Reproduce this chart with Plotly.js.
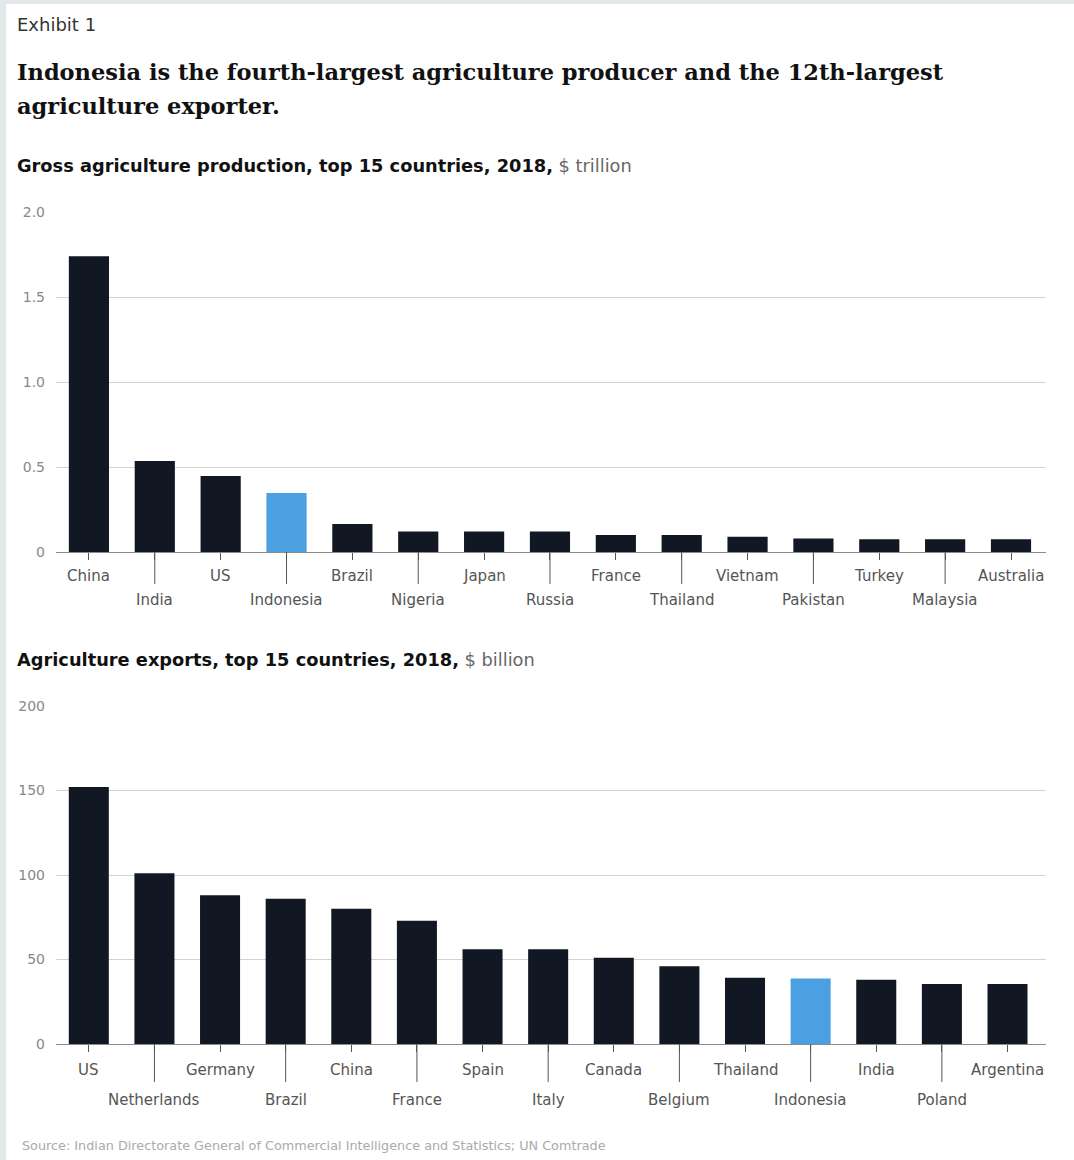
<!DOCTYPE html>
<html>
<head>
<meta charset="utf-8">
<script src="https://cdn.plot.ly/plotly-3.0.1.min.js"></script>
<style>html,body{margin:0;padding:0;background:#e3e9ea;}#chart{width:1074px;height:1160px;}</style>
</head>
<body>
<div id="chart"></div>
<script>
// ---- Data ----
const prodCountries = ["China","India","US","Indonesia","Brazil","Nigeria","Japan","Russia","France","Thailand","Vietnam","Pakistan","Turkey","Malaysia","Australia"];
const prodValues = [1.74, 0.535, 0.447, 0.347, 0.165, 0.12, 0.12, 0.12, 0.10, 0.10, 0.09, 0.08, 0.075, 0.075, 0.075];
const prodTicks = [0, 0.5, 1.0, 1.5, 2.0];
const prodTickLabels = ["0", "0.5", "1.0", "1.5", "2.0"];

const expCountries = ["US","Netherlands","Germany","Brazil","China","France","Spain","Italy","Canada","Belgium","Thailand","Indonesia","India","Poland","Argentina"];
const expValues = [152, 101, 88, 86, 80, 73, 56, 56, 51, 46, 39.2, 38.8, 38, 35.5, 35.5];
const expTicks = [0, 50, 100, 150, 200];
const expTickLabels = ["0", "50", "100", "150", "200"];

const highlight = "Indonesia";

// ---- Styling ----
const W = 1074, H = 1160;
const DARK = "#111823", BLUE = "#4aa0e0";
const px = v => v / W;
const py = v => 1 - v / H;
const sans = "DejaVu Sans, Verdana, sans-serif";
const serif = "DejaVu Serif, Georgia, serif";

const colorsFor = cats => cats.map(c => c === highlight ? BLUE : DARK);

const traces = [
  {type: "bar", x: prodCountries, y: prodValues, xaxis: "x", yaxis: "y",
   marker: {color: colorsFor(prodCountries)}, hoverinfo: "x+y"},
  {type: "bar", x: expCountries, y: expValues, xaxis: "x2", yaxis: "y2",
   marker: {color: colorsFor(expCountries)}, hoverinfo: "x+y"}
];

const xdom = [px(56), px(1046)];
const ydom1 = [py(552), py(212)];
const ydom2 = [py(1044), py(706)];
const yaxisBase = {
  showline: false, zeroline: true, zerolinecolor: "#8a8a8a", zerolinewidth: 1,
  gridcolor: "#d2d2d2", gridwidth: 1, ticks: "", tickfont: {family: sans, size: 14, color: "#888"},
  ticklabelstandoff: 10, fixedrange: true
};
const xaxisBase = {
  type: "category", showgrid: false, showline: false, ticks: "outside", ticklen: 7,
  tickcolor: "#555", tickwidth: 1, showticklabels: false, fixedrange: true, domain: xdom
};

const shapes = [
  {type: "rect", xref: "paper", yref: "paper", x0: px(6), x1: 1, y0: 0, y1: py(4),
   fillcolor: "white", line: {width: 0}, layer: "below"}
];
const annotations = [];

function addCategoryLabels(cats, xref, yref, baseline, upShift, lowShift, longLen) {
  cats.forEach((c, i) => {
    const lower = i % 2 === 1;
    if (lower) {
      shapes.push({type: "line", xref: xref, yref: "paper", x0: c, x1: c,
        ysizemode: "pixel", yanchor: baseline, y0: 0, y1: -longLen,
        line: {color: "#555", width: 1}});
    }
    annotations.push({x: c, y: 0, xref: xref, yref: yref, showarrow: false,
      yanchor: "middle", xanchor: "center", yshift: lower ? lowShift : upShift,
      text: c, font: {family: sans, size: 15, color: "#555"}});
  });
}
addCategoryLabels(prodCountries, "x", "y", ydom1[0], -24, -48, 32);
addCategoryLabels(expCountries, "x2", "y2", ydom2[0], -26, -56, 38);

function textAnn(x, y, text, font) {
  annotations.push({xref: "paper", yref: "paper", x: px(x), y: py(y), xanchor: "left",
    yanchor: "middle", align: "left", showarrow: false, text: text, font: font});
}
textAnn(15, 24, "Exhibit 1", {family: sans, size: 18, color: "#333"});
textAnn(15, 72, "<b>Indonesia is the fourth-largest agriculture producer and the 12th-largest</b>",
  {family: serif, size: 22.5, color: "#111"});
textAnn(15, 106, "<b>agriculture exporter.</b>", {family: serif, size: 22.5, color: "#111"});
textAnn(15, 165, "<b>Gross agriculture production, top 15 countries, 2018,</b> <span style='color:#666'>$ trillion</span>",
  {family: sans, size: 17.8, color: "#111"});
textAnn(15, 659, "<b>Agriculture exports, top 15 countries, 2018,</b> <span style='color:#666'>$ billion</span>",
  {family: sans, size: 17.8, color: "#111"});
textAnn(20, 1145, "Source: Indian Directorate General of Commercial Intelligence and Statistics; UN Comtrade",
  {family: sans, size: 12.8, color: "#aaa"});

const layout = {
  width: W, height: H,
  margin: {l: 0, r: 0, t: 0, b: 0},
  paper_bgcolor: "#e3e9ea", plot_bgcolor: "white",
  showlegend: false, bargap: 0.39,
  xaxis: Object.assign({}, xaxisBase, {anchor: "y"}),
  xaxis2: Object.assign({}, xaxisBase, {anchor: "y2"}),
  yaxis: Object.assign({}, yaxisBase, {anchor: "x", domain: ydom1, range: [0, 2],
    tickvals: prodTicks, ticktext: prodTickLabels}),
  yaxis2: Object.assign({}, yaxisBase, {anchor: "x2", domain: ydom2, range: [0, 200],
    tickvals: expTicks, ticktext: expTickLabels}),
  shapes: shapes, annotations: annotations
};

Plotly.newPlot("chart", traces, layout, {displayModeBar: false, staticPlot: true});
</script>
</body>
</html>
